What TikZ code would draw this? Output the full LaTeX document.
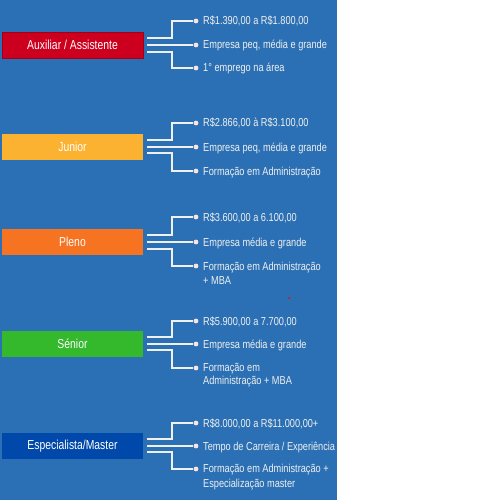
\documentclass[tikz,border=0pt]{standalone}
\usepackage{fontspec}
\setmainfont{Liberation Sans}[FakeStretch=0.8]
\definecolor{bgblue}{RGB}{43,112,180}
\definecolor{cred}{RGB}{204,0,30}
\definecolor{cyellow}{RGB}{251,178,48}
\definecolor{corange}{RGB}{245,115,33}
\definecolor{cgreen}{RGB}{52,184,44}
\definecolor{cdblue}{RGB}{0,72,170}
\definecolor{linecol}{RGB}{240,240,240}
\definecolor{dotcol}{RGB}{248,228,224}
\tikzset{
  lvlbox/.style={rectangle, minimum width=141pt, minimum height=26pt, inner sep=0pt,
    text=white, font=\fontsize{13}{15}\selectfont},
  bullet/.style={circle, fill=dotcol, minimum size=4.8pt, inner sep=0pt},
  itemtxt/.style={anchor=base west, inner sep=0pt, text=linecol, align=left,
    font=\fontsize{11.5}{13.5}\selectfont},
  itemtwo/.style={anchor=west, inner sep=0pt, text=linecol, align=left,
    font=\fontsize{11.5}{13.5}\selectfont},
  conn/.style={draw=linecol, line width=1.5pt}
}
\begin{document}
\begin{tikzpicture}[x=1pt,y=-1pt]
\useasboundingbox (0,0) rectangle (500,500);
\fill[white] (0,0) rectangle (500,500);
\fill[bgblue] (0,0) rectangle (337,500);
\coordinate (k) at (172,0);

% Block 1
\node[lvlbox, fill=cred, draw=cred!80!black, line width=0.5pt] (b1) at (72.5,45) {Auxiliar / Assistente};
\coordinate (s11) at (147,38); \coordinate (s12) at (147,45); \coordinate (s13) at (147,52);
\node[bullet] (d11) at (196,21) {};
\node[bullet] (d12) at (196,45) {};
\node[bullet] (d13) at (196,68) {};
\draw[conn] (s11) -- (s11 -| k) |- (d11);
\draw[conn] (s12) -- (d12);
\draw[conn] (s13) -- (s13 -| k) |- (d13);
\node[itemtxt] (t11) at (203,25) {R\$1.390,00 a R\$1.800,00};
\node[itemtxt] (t12) at (203,49) {Empresa peq, média e grande};
\node[itemtxt] (t13) at (203,72) {1° emprego na área};

% Block 2
\node[lvlbox, fill=cyellow] (b2) at (72.5,146.5) {Junior};
\coordinate (s21) at (147,140); \coordinate (s22) at (147,147); \coordinate (s23) at (147,153);
\node[bullet] (d21) at (196,123) {};
\node[bullet] (d22) at (196,147) {};
\node[bullet] (d23) at (196,171) {};
\draw[conn] (s21) -- (s21 -| k) |- (d21);
\draw[conn] (s22) -- (d22);
\draw[conn] (s23) -- (s23 -| k) |- (d23);
\node[itemtxt] (t21) at (203,127) {R\$2.866,00 à R\$3.100,00};
\node[itemtxt] (t22) at (203,151) {Empresa peq, média e grande};
\node[itemtxt] (t23) at (203,175) {Formação em Administração};

% Block 3
\node[lvlbox, fill=corange] (b3) at (72.5,242) {Pleno};
\coordinate (s31) at (147,235); \coordinate (s32) at (147,242); \coordinate (s33) at (147,249);
\node[bullet] (d31) at (196,217) {};
\node[bullet] (d32) at (196,242) {};
\node[bullet] (d33) at (196,266) {};
\draw[conn] (s31) -- (s31 -| k) |- (d31);
\draw[conn] (s32) -- (d32);
\draw[conn] (s33) -- (s33 -| k) |- (d33);
\node[itemtxt] (t31) at (203,221) {R\$3.600,00 a 6.100,00};
\node[itemtxt] (t32) at (203,246) {Empresa média e grande};
\node[itemtwo] (t33) at (203,273.5) {Formação em Administração\\[1pt]+ MBA};

% Block 4
\node[lvlbox, fill=cgreen] (b4) at (72.5,344) {Sénior};
\coordinate (s41) at (147,337); \coordinate (s42) at (147,344); \coordinate (s43) at (147,350);
\node[bullet] (d41) at (196,321) {};
\node[bullet] (d42) at (196,344) {};
\node[bullet] (d43) at (196,368) {};
\draw[conn] (s41) -- (s41 -| k) |- (d41);
\draw[conn] (s42) -- (d42);
\draw[conn] (s43) -- (s43 -| k) |- (d43);
\node[itemtxt] (t41) at (203,325) {R\$5.900,00 a 7.700,00};
\node[itemtxt] (t42) at (203,348) {Empresa média e grande};
\node[itemtwo] (t43) at (203,375.5) {Formação em\\[-0.5pt]Administração + MBA};

% Block 5
\node[lvlbox, fill=cdblue] (b5) at (72.5,446) {Especialista/Master};
\coordinate (s51) at (147,439); \coordinate (s52) at (147,446); \coordinate (s53) at (147,452);
\node[bullet] (d51) at (196,423) {};
\node[bullet] (d52) at (196,446) {};
\node[bullet] (d53) at (196,469) {};
\draw[conn] (s51) -- (s51 -| k) |- (d51);
\draw[conn] (s52) -- (d52);
\draw[conn] (s53) -- (s53 -| k) |- (d53);
\node[itemtxt] (t51) at (203,427) {R\$8.000,00 a R\$11.000,00+};
\node[itemtxt] (t52) at (203,450) {Tempo de Carreira / Experiência};
\node[itemtwo] (t53) at (203,477) {Formação em Administração +\\[2pt]Especialização master};

% small red mark
\fill[red] (289,298) circle (1pt);
\end{tikzpicture}
\end{document}
